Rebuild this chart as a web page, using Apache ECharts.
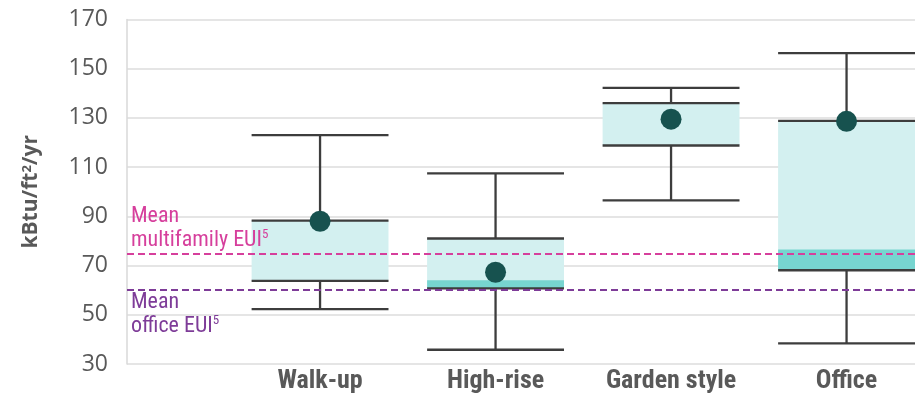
<!DOCTYPE html>
<html>
<head>
<meta charset="utf-8">
<script src="https://cdn.jsdelivr.net/npm/echarts@6/dist/echarts.min.js"></script>
<style>
  html, body { margin: 0; padding: 0; background: #fff; }
  #chart { width: 915px; height: 394px; }
</style>
</head>
<body>
<div id="chart"></div>
<script>
// Energy use intensity by building type (kBtu/ft²/yr)
const categories   = ['Walk-up', 'High-rise', 'Garden style', 'Office'];
const whiskerLow   = [52.3, 35.8, 96.5, 38.4];
const boxLow       = [63.8, 60.7, 118.8, 68.1];
const bandTop      = [null, 64.0, null, 76.5];   // darker strip at the bottom of the box
const boxHigh      = [88.3, 81.0, 136.0, 128.8];
const whiskerHigh  = [123.0, 107.5, 142.2, 156.3];
const centerValue  = [88.0, 67.3, 129.5, 128.6];

const meanMultifamily = 75;
const meanOffice = 60.3;

const yMin = 30, yMax = 170, yStep = 20;
// horizontal extent in category units: left margin holds the reference-line notes,
// the last box runs off the right edge
const xMin = -1.1, xMax = 3.39;
const BOX_WIDTH = 0.78;

const condensed = "'Roboto Condensed', 'Liberation Sans Narrow', 'DejaVu Sans Condensed', 'Arial Narrow', sans-serif";

const boxData = categories.map((c, i) => [i, whiskerLow[i], boxLow[i], bandTop[i] == null ? boxLow[i] : bandTop[i], boxHigh[i], whiskerHigh[i]]);
const dotData = categories.map((c, i) => [i, centerValue[i]]);

function renderBox(params, api) {
  const xi = api.value(0);
  const cx = api.coord([xi, yMin])[0];
  const bw = api.size([BOX_WIDTH, 0])[0];
  const y = v => api.coord([xi, v])[1];
  const wl = y(api.value(1)), bl = y(api.value(2)), bt = y(api.value(3)), bh = y(api.value(4)), wh = y(api.value(5));
  const x0 = cx - bw / 2, x1 = cx + bw / 2;
  const stroke = { stroke: '#3d3d3d', lineWidth: 2.3 };
  const kids = [
    { type: 'line', shape: { x1: cx, y1: wl, x2: cx, y2: wh }, style: stroke },
    { type: 'rect', shape: { x: x0, y: bh, width: bw, height: bl - bh }, style: { fill: '#d3f0f0' } }
  ];
  if (bt !== bl) {
    kids.push({ type: 'rect', shape: { x: x0, y: bt, width: bw, height: bl - bt }, style: { fill: '#77d5d0' } });
  }
  [wl, bl, bh, wh].forEach(yy => {
    kids.push({ type: 'line', shape: { x1: x0, y1: yy, x2: x1, y2: yy }, style: stroke });
  });
  return { type: 'group', children: kids };
}

const supStyle = { fontSize: 13, verticalAlign: 'top', lineHeight: 15 };

const chart = echarts.init(document.getElementById('chart'), null, { renderer: 'canvas' });
chart.setOption({
  animation: false,
  backgroundColor: '#ffffff',
  grid: { left: 127, right: 0, top: 19.5, bottom: 29.5 },
  xAxis: {
    type: 'value', min: xMin, max: xMax,
    axisLine: { show: false, onZero: false }, axisTick: { show: false }, splitLine: { show: false },
    axisLabel: {
      customValues: categories.map((c, i) => i),
      formatter: v => categories[Math.round(v)] || '',
      color: '#595959', fontFamily: condensed, fontWeight: 'bold', fontSize: 26, margin: 4
    }
  },
  yAxis: {
    type: 'value', min: yMin, max: yMax, interval: yStep,
    name: 'kBtu/ft{s|2}/yr', nameLocation: 'middle', nameGap: 85, nameRotate: 90,
    nameTextStyle: {
      color: '#595959', fontFamily: "'Open Sans', sans-serif", fontWeight: 'bold', fontSize: 21,
      rich: { s: { fontSize: 13, verticalAlign: 'top', lineHeight: 14, color: '#595959', fontWeight: 'bold', fontFamily: "'Open Sans', sans-serif" } }
    },
    axisLine: { show: true, onZero: false, lineStyle: { color: '#d9d9d9', width: 1.5 } },
    axisTick: { show: false },
    axisLabel: { color: '#595959', fontFamily: "'Open Sans', sans-serif", fontSize: 23, margin: 19 },
    splitLine: { show: true, lineStyle: { color: '#dcdcdc', width: 1.6 } }
  },
  series: [
    {
      type: 'custom', z: 2, clip: false,
      renderItem: renderBox, data: boxData,
      encode: { x: 0, y: [1, 2, 3, 4, 5] }
    },
    {
      type: 'scatter', z: 4,
      symbol: 'circle', symbolSize: 21,
      itemStyle: { color: '#17524f', opacity: 1 },
      data: dotData
    },
    {
      type: 'line', z: 6, data: [],
      markLine: {
        silent: true, symbol: 'none',
        data: [
          {
            yAxis: meanMultifamily,
            lineStyle: { color: '#d63f9c', type: [7, 4], width: 1.8 },
            label: {
              position: 'insideStartTop', distance: [4, 1],
              formatter: 'Mean\nmultifamily EUI{s|5}',
              color: '#d63f9c', fontFamily: condensed, fontSize: 22, lineHeight: 24, align: 'left',
              rich: { s: Object.assign({ color: '#d63f9c', fontFamily: condensed }, supStyle) }
            }
          },
          {
            yAxis: meanOffice,
            lineStyle: { color: '#7e3c98', type: [7, 4], width: 1.8 },
            label: {
              position: 'insideStartBottom', distance: [4, 1],
              formatter: 'Mean\noffice EUI{s|5}',
              color: '#7e3c98', fontFamily: condensed, fontSize: 22, lineHeight: 24, align: 'left',
              rich: { s: Object.assign({ color: '#7e3c98', fontFamily: condensed }, supStyle) }
            }
          }
        ]
      }
    }
  ]
});
</script>
</body>
</html>
